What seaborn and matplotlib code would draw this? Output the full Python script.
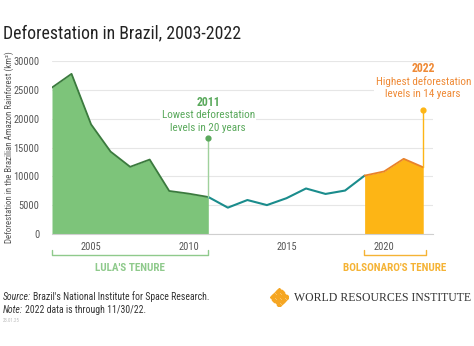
import matplotlib
matplotlib.use("Agg")
import matplotlib.pyplot as plt
from matplotlib import font_manager
import seaborn as sns
import pandas as pd

# Annual deforestation in the Brazilian Amazon (km²), PRODES
years = [2003, 2004, 2005, 2006, 2007, 2008, 2009, 2010, 2011, 2012,
         2013, 2014, 2015, 2016, 2017, 2018, 2019, 2020, 2021, 2022]
area_km2 = [25396, 27772, 19014, 14286, 11651, 12911, 7464, 7000, 6418, 4571,
            5891, 5012, 6207, 7893, 6947, 7536, 10129, 10851, 13038, 11568]

y_ticks = [0, 5000, 10000, 15000, 20000, 25000, 30000]
x_ticks = [2005, 2010, 2015, 2020]

lula_span = (2003, 2011)
bolsonaro_span = (2019, 2022)

sns.set_theme(style="white")
names = {f.name for f in font_manager.fontManager.ttflist}
narrow = next((n for n in ["Roboto Condensed", "Sofia Sans Condensed",
                           "Saira SemiCondensed", "Roboto"] if n in names), "DejaVu Sans")
plt.rcParams["font.family"] = [narrow, "DejaVu Sans"]

GREEN_FILL = "#7dc47a"
GREEN_LINE = "#3b7a3e"
GREEN_TEXT = "#5aa95c"
TEAL = "#1a8c8c"
ORANGE_FILL = "#fdb515"
ORANGE_LINE = "#e8822a"
ORANGE_TEXT = "#ef8a36"
GRID = "#e6e6e6"
TICK = "#555555"

df = pd.DataFrame({"year": years, "area": area_km2})

fig = plt.figure(figsize=(4.74, 3.46), dpi=100)
ax = fig.add_axes([52 / 474, 1 - 234 / 346, (433 - 52) / 474, (234 - 61) / 346])

lula = df[(df.year >= lula_span[0]) & (df.year <= lula_span[1])]
mid = df[(df.year >= lula_span[1]) & (df.year <= bolsonaro_span[0])]
bols = df[(df.year >= bolsonaro_span[0]) & (df.year <= bolsonaro_span[1])]

ax.fill_between(lula.year, 0, lula.area, color=GREEN_FILL, lw=0, zorder=2)
ax.fill_between(bols.year, 0, bols.area, color=ORANGE_FILL, lw=0, zorder=2)
sns.lineplot(data=lula, x="year", y="area", color=GREEN_LINE, lw=1.3, ax=ax, zorder=3)
sns.lineplot(data=mid, x="year", y="area", color=TEAL, lw=1.5, ax=ax, zorder=3)
sns.lineplot(data=bols, x="year", y="area", color=ORANGE_LINE, lw=1.3, ax=ax, zorder=3)

ax.set_xlim(2003, 2022.5)
ax.set_ylim(0, 30000)
ax.set_yticks(y_ticks)
ax.set_yticklabels([str(v) for v in y_ticks])
ax.set_xticks(x_ticks)
ax.set_xticklabels([str(v) for v in x_ticks])
ax.tick_params(axis="both", length=0, labelsize=7.5, colors=TICK, pad=6)
ax.tick_params(axis="y", pad=9)
ax.grid(axis="y", color=GRID, lw=0.8, zorder=0)
for s in ["top", "right", "left"]:
    ax.spines[s].set_visible(False)
ax.spines["bottom"].set_color("#cfcfcf")
ax.spines["bottom"].set_linewidth(0.8)
ax.set_xlabel("")
ax.set_ylabel("Deforestation in the Brazilian Amazon Rainforest (km²)",
              fontsize=6.4, color=TICK)
ax.yaxis.set_label_coords(-0.1, 0.5)

# Callouts for the lowest and highest years
low_year, high_year = 2011, 2022
low_val = area_km2[years.index(low_year)]
high_val = area_km2[years.index(high_year)]
ax.plot([low_year, low_year], [low_val, 16700], color="#9fd19c", lw=1, zorder=4)
ax.scatter([low_year], [16700], s=12, color=GREEN_TEXT, zorder=5)
ax.plot([high_year, high_year], [high_val, 21500], color=ORANGE_FILL, lw=1, zorder=4)
ax.scatter([high_year], [21500], s=12, color=ORANGE_FILL, zorder=5)

bbox = dict(facecolor="white", edgecolor="none", pad=1)
ax.text(low_year, 22800, "2011", ha="center", va="center", fontsize=8.5,
        fontweight="bold", color=GREEN_TEXT, zorder=6)
ax.text(low_year, 19500, "Lowest deforestation\nlevels in 20 years", ha="center",
        va="center", fontsize=8, color=GREEN_TEXT, linespacing=1.3, bbox=bbox, zorder=6)
ax.text(high_year, 28700, "2022", ha="center", va="center", fontsize=8.5,
        fontweight="bold", color=ORANGE_TEXT, zorder=6)
ax.text(high_year, 25400, "Highest deforestation\nlevels in 14 years", ha="center",
        va="center", fontsize=8, color=ORANGE_TEXT, linespacing=1.3, bbox=bbox, zorder=6)

# Tenure brackets below the axis
trans = ax.get_xaxis_transform()
def bracket(x0, x1, color, label):
    yb = -0.12
    ax.plot([x0, x0, x1, x1], [yb + 0.025, yb, yb, yb + 0.025], color=color, lw=1,
            transform=trans, clip_on=False)
    ax.text((x0 + x1) / 2, yb - 0.075, label, ha="center", va="center", fontsize=8,
            color=color, fontweight="bold", transform=trans)

bracket(lula_span[0], lula_span[1], "#8fca8c", "LULA'S TENURE")
bracket(bolsonaro_span[0] - 0.05, bolsonaro_span[1] + 0.15, "#f5b335", "BOLSONARO'S TENURE")

# Title and footnotes
fig.text(3 / 474, 1 - 33 / 346, "Deforestation in Brazil, 2003-2022", fontsize=12.8,
         color="#222222", va="center", ha="left")

renderer = fig.canvas.get_renderer()
def label_pair(y, lead, rest):
    t = fig.text(3 / 474, 1 - y / 346, lead, fontsize=7, style="italic",
                 color="#333333", va="center")
    w = t.get_window_extent(renderer)
    fig.text((w.x1 + 2) / 474, 1 - y / 346, rest, fontsize=7,
             color="#333333", va="center")

label_pair(297, "Source:", "Brazil's National Institute for Space Research.")
label_pair(310, "Note:", "2022 data is through 11/30/22.")
fig.text(3 / 474, 1 - 321 / 346, "23.01.25", fontsize=3.5, color="#bbbbbb", va="center")

# Organisation mark: lattice of diamonds plus wordmark
logo = fig.add_axes([270 / 474, 1 - 306 / 346, 18 / 474, 18 / 346])
logo.set_xlim(-3.6, 3.6)
logo.set_ylim(-3.6, 3.6)
logo.axis("off")
pts = [(i, j) for i in range(-3, 4) for j in range(-3, 4)
       if abs(i) + abs(j) <= 3 and (i + j) % 2 == 1]
logo.scatter([p[0] for p in pts], [p[1] for p in pts], marker="D", s=9,
             color="#f5a623", lw=0)
fig.text(294 / 474, 1 - 298 / 346, "WORLD RESOURCES INSTITUTE", fontsize=8.5,
         family=["Liberation Serif", "DejaVu Serif"], color="#333333", va="center")

fig.savefig("out.png", dpi=100)
